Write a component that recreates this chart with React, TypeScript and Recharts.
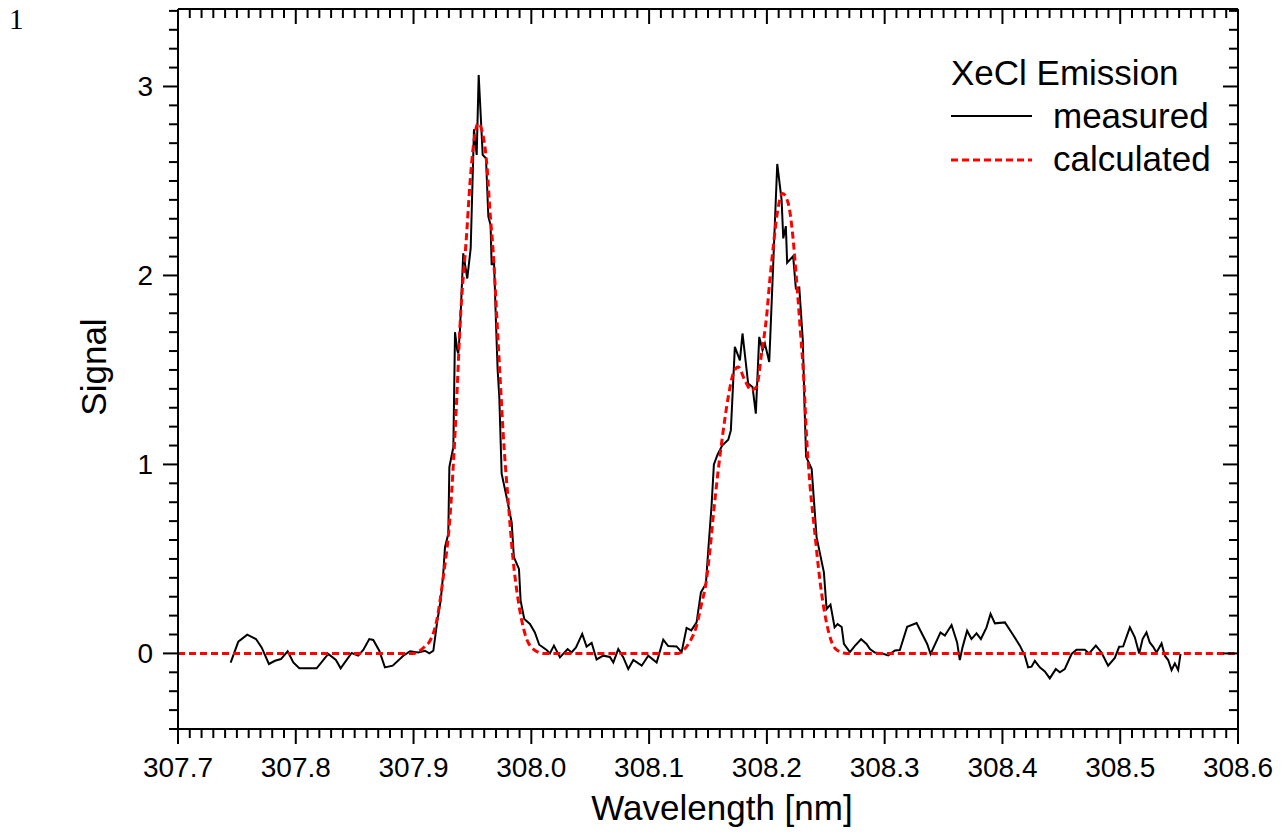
import React from 'react';
import { LineChart, Line, XAxis, YAxis, Legend } from 'recharts';

// ---------- data ----------
const measuredX = [
  307.7447, 307.7512, 307.7588, 307.7662, 307.771, 307.7772, 307.7823, 307.7874, 307.7931, 307.7979,
  307.803, 307.8177, 307.8276, 307.8341, 307.8381, 307.8474, 307.853, 307.8573, 307.8624, 307.8658,
  307.8709, 307.8757, 307.8823, 307.8913, 307.897, 307.904, 307.9097, 307.9134, 307.9168, 307.9202,
  307.923, 307.9252, 307.9267, 307.9295, 307.9304, 307.9338, 307.9352, 307.9371, 307.938, 307.9394,
  307.9422, 307.9456, 307.9485, 307.9513, 307.9536, 307.9553, 307.9575, 307.9587, 307.9615, 307.9635,
  307.9654, 307.9663, 307.9683, 307.97, 307.9714, 307.9728, 307.9748, 307.9796, 307.9833, 307.9852,
  307.9895, 307.9909, 307.994, 307.9988, 308.003, 308.0067, 308.013, 308.0158, 308.0192, 308.0243,
  308.0308, 308.0342, 308.0379, 308.0432, 308.0469, 308.0512, 308.0554, 308.0611, 308.0667, 308.0696,
  308.0738, 308.0781, 308.0823, 308.0866, 308.0937, 308.0993, 308.1064, 308.112, 308.1162, 308.1233,
  308.1276, 308.1318, 308.1358, 308.1403, 308.144, 308.1482, 308.1502, 308.153, 308.155, 308.158,
  308.162, 308.1672, 308.1694, 308.1728, 308.1771, 308.1793, 308.1841, 308.1878, 308.1906, 308.1935,
  308.1963, 308.1983, 308.202, 308.2054, 308.2088, 308.2125, 308.2139, 308.2161, 308.2172, 308.2223,
  308.2246, 308.2275, 308.2305, 308.232, 308.2333, 308.238, 308.2422, 308.2484, 308.2507, 308.254,
  308.2575, 308.26, 308.2635, 308.2654, 308.2705, 308.2747, 308.28, 308.2846, 308.2875, 308.2917,
  308.2974, 308.303, 308.3087, 308.3129, 308.3191, 308.3271, 308.3361, 308.339, 308.3474, 308.3511,
  308.3568, 308.3615, 308.3638, 308.3661, 308.37, 308.3737, 308.378, 308.3817, 308.3865, 308.3899,
  308.3936, 308.4021, 308.4077, 308.4148, 308.419, 308.4218, 308.4247, 308.4275, 308.4317, 308.436,
  308.4402, 308.4453, 308.4487, 308.4529, 308.4587, 308.4629, 308.4699, 308.4736, 308.4793, 308.4841,
  308.4897, 308.4954, 308.4991, 308.5025, 308.5082, 308.5124, 308.5161, 308.519, 308.5223, 308.5251,
  308.528, 308.5308, 308.5351, 308.5379, 308.5407, 308.5436, 308.5464, 308.5492, 308.5512,
];
const measuredY = [
  -0.049, 0.062, 0.099, 0.076, 0.032, -0.056, -0.039, -0.03, 0.011, -0.048,
  -0.079, -0.079, -0.003, -0.035, -0.079, 0.002, -0.012, 0.018, 0.076, 0.071,
  0.014, -0.074, -0.065, -0.012, 0.011, 0.005, 0.014, 0.0, 0.014, 0.173,
  0.279, 0.42, 0.562, 0.633, 0.986, 1.092, 1.7, 1.604, 1.587, 1.71,
  2.117, 1.984, 2.143, 2.774, 2.638, 3.061, 2.788, 2.638, 2.62, 2.311,
  2.267, 2.055, 2.081, 1.746, 1.5, 1.357, 0.951, 0.809, 0.694, 0.509,
  0.447, 0.279, 0.182, 0.156, 0.111, 0.046, 0.018, 0.0, 0.041, -0.021,
  0.023, 0.005, 0.032, 0.103, 0.036, 0.056, -0.032, -0.012, -0.019, -0.048,
  0.023, -0.021, -0.083, -0.035, -0.065, -0.012, -0.048, 0.073, 0.039, 0.037,
  0.007, 0.135, 0.122, 0.164, 0.323, 0.368, 0.544, 0.78, 1.0, 1.05,
  1.1, 1.131, 1.18, 1.622, 1.551, 1.693, 1.428, 1.41, 1.269, 1.675,
  1.604, 1.64, 1.542, 2.064, 2.59, 2.399, 2.196, 2.261, 2.067, 2.102,
  1.931, 1.936, 1.657, 1.3, 1.04, 0.977, 0.615, 0.429, 0.235, 0.258,
  0.138, 0.155, 0.14, 0.05, 0.007, 0.04, 0.075, 0.05, 0.023, 0.005,
  0.0, -0.01, 0.016, 0.018, 0.141, 0.161, 0.05, -0.003, 0.111, 0.094,
  0.15, 0.058, -0.035, 0.032, 0.12, 0.076, 0.106, 0.076, 0.138, 0.209,
  0.159, 0.164, 0.111, 0.041, -0.012, -0.074, -0.07, -0.039, -0.074, -0.095,
  -0.132, -0.083, -0.1, -0.083, -0.003, 0.02, 0.02, 0.0, 0.041, 0.005,
  -0.065, -0.024, 0.035, 0.037, 0.138, 0.085, 0.0, 0.076, 0.111, 0.058,
  0.035, 0.005, 0.053, -0.012, -0.035, -0.088, -0.053, -0.088, -0.003,
];

const calcX = [
  307.7, 307.9, 307.9054, 307.91, 307.914, 307.9196, 307.9252, 307.9309, 307.9366, 307.9394,
  307.9451, 307.9479, 307.9507, 307.9549, 307.9592, 307.9626, 307.9648, 307.9677, 307.9705, 307.9733,
  307.9761, 307.9803, 307.9846, 307.9889, 307.9946, 308.0016, 308.01, 308.125, 308.1276, 308.1346,
  308.14, 308.1445, 308.1482, 308.1516, 308.155, 308.1585, 308.1624, 308.1672, 308.1714, 308.1756,
  308.1813, 308.187, 308.1912, 308.1955, 308.1997, 308.2025, 308.2054, 308.2088, 308.2133, 308.2181,
  308.2218, 308.2252, 308.2286, 308.2314, 308.2337, 308.2365, 308.2408, 308.244, 308.2465, 308.2507,
  308.255, 308.26, 308.268, 308.6,
];
const calcY = [
  0, 0, 0.014, 0.04, 0.067, 0.173, 0.403, 0.72, 1.339, 1.728,
  2.222, 2.487, 2.68, 2.806, 2.735, 2.558, 2.346, 2.117, 1.8, 1.48,
  1.163, 0.809, 0.491, 0.279, 0.103, 0.023, 0, 0, 0.009, 0.062,
  0.14, 0.262, 0.368, 0.544, 0.76, 0.96, 1.154, 1.357, 1.48, 1.516,
  1.445, 1.392, 1.41, 1.587, 1.781, 1.975, 2.152, 2.329, 2.434, 2.382,
  2.222, 1.975, 1.693, 1.445, 1.145, 0.898, 0.633, 0.44, 0.315, 0.16,
  0.06, 0.015, 0, 0,
];

const xMajorTicks = [307.7, 307.8, 307.9, 308.0, 308.1, 308.2, 308.3, 308.4, 308.5, 308.6];
const xTickLabels = ['307.7', '307.8', '307.9', '308.0', '308.1', '308.2', '308.3', '308.4', '308.5', '308.6'];
const yMajorTicks = [0, 1, 2, 3];
const yTickLabels = ['0', '1', '2', '3'];

const xTitle = 'Wavelength [nm]';
const yTitle = 'Signal';
const legendTitle = 'XeCl Emission';
const seriesNames = ['measured', 'calculated'];
const pageNumber = '1';

const measured = measuredX.map((x, i) => ({ x, y: measuredY[i] }));
const calculated = calcX.map((x, i) => ({ x, y: calcY[i] }));

const xAllTicks = Array.from({ length: 91 }, (_, i) => Math.round(30770 + i) / 100);
const yAllTicks = Array.from({ length: 39 }, (_, i) => (i - 4) / 10);

const FONT = '"Liberation Sans", Arial, Helvetica, sans-serif';
const MAJOR = 15;
const MINOR = 9;

const isXMajor = (v: number) => Math.abs(v * 10 - Math.round(v * 10)) < 1e-6;
const isYMajor = (v: number) => Math.abs(v - Math.round(v)) < 1e-6;
const xLabelOf = (v: number) => {
  const i = xMajorTicks.findIndex((t) => Math.abs(t - v) < 1e-6);
  return i >= 0 ? xTickLabels[i] : '';
};
const yLabelOf = (v: number) => {
  const i = yMajorTicks.findIndex((t) => Math.abs(t - v) < 1e-6);
  return i >= 0 ? yTickLabels[i] : '';
};

const BottomTick = (props: any) => {
  const { x, y, payload } = props;
  const major = isXMajor(payload.value);
  return (
    <g>
      <line x1={x} y1={y} x2={x} y2={y + (major ? MAJOR : MINOR)} stroke="#000" strokeWidth={2} />
      {major && (
        <text x={x} y={y + 48} textAnchor="middle" fontFamily={FONT} fontSize={28} fill="#000">
          {xLabelOf(payload.value)}
        </text>
      )}
    </g>
  );
};

const TopTick = (props: any) => {
  const { x, y, payload } = props;
  const major = isXMajor(payload.value);
  return <line x1={x} y1={y} x2={x} y2={y + (major ? MAJOR : MINOR)} stroke="#000" strokeWidth={2} />;
};

const LeftTick = (props: any) => {
  const { x, y, payload } = props;
  const major = isYMajor(payload.value);
  return (
    <g>
      <line x1={x} y1={y} x2={x - (major ? MAJOR : MINOR)} y2={y} stroke="#000" strokeWidth={2} />
      {major && (
        <text x={x - 25} y={y + 10} textAnchor="end" fontFamily={FONT} fontSize={28} fill="#000">
          {yLabelOf(payload.value)}
        </text>
      )}
    </g>
  );
};

const RightTick = (props: any) => {
  const { x, y, payload } = props;
  const major = isYMajor(payload.value);
  return <line x1={x} y1={y} x2={x - (major ? MAJOR : MINOR)} y2={y} stroke="#000" strokeWidth={2} />;
};

const LegendBox = () => (
  <svg width={300} height={150} style={{ display: 'block' }}>
    <text x={11} y={45} fontFamily={FONT} fontSize={35} fill="#000">{legendTitle}</text>
    <line x1={11} y1={76} x2={92} y2={76} stroke="#000" strokeWidth={2} />
    <text x={113} y={88} fontFamily={FONT} fontSize={35} fill="#000">{seriesNames[0]}</text>
    <line x1={11} y1={120} x2={92} y2={120} stroke="#ff0000" strokeWidth={3} strokeDasharray="7 4" />
    <text x={113} y={131} fontFamily={FONT} fontSize={35} fill="#000">{seriesNames[1]}</text>
  </svg>
);

export default function App() {
  return (
    <div style={{ position: 'absolute', left: 0, top: 0, width: 1285, height: 834, background: '#fff' }}>
      <div
        style={{
          position: 'absolute',
          left: 9,
          top: 3,
          fontFamily: '"Liberation Serif", "Times New Roman", serif',
          fontSize: 29,
          lineHeight: '32px',
          color: '#000',
        }}
      >
        {pageNumber}
      </div>
      <LineChart width={1285} height={834} margin={{ top: 8, right: 46, bottom: 0, left: 0 }}>
        <XAxis
          dataKey="x"
          type="number"
          domain={[307.7, 308.6]}
          allowDataOverflow
          ticks={xAllTicks}
          interval={0}
          height={105}
          tickSize={0}
          tickMargin={0}
          tickLine={false}
          axisLine={{ stroke: '#000', strokeWidth: 2 }}
          tick={(p: any) => <BottomTick {...p} />}
          label={() => (
            <text x={722} y={820} textAnchor="middle" fontFamily={FONT} fontSize={35} fill="#000">
              {xTitle}
            </text>
          )}
        />
        <XAxis
          xAxisId="top"
          orientation="top"
          dataKey="x"
          type="number"
          domain={[307.7, 308.6]}
          allowDataOverflow
          ticks={xAllTicks}
          interval={0}
          height={1}
          tickSize={0}
          tickMargin={0}
          tickLine={false}
          axisLine={{ stroke: '#000', strokeWidth: 2 }}
          tick={(p: any) => <TopTick {...p} />}
        />
        <YAxis
          type="number"
          domain={[-0.4, 3.41]}
          allowDataOverflow
          ticks={yAllTicks}
          interval={0}
          width={178}
          tickSize={0}
          tickMargin={0}
          tickLine={false}
          axisLine={{ stroke: '#000', strokeWidth: 2 }}
          tick={(p: any) => <LeftTick {...p} />}
          label={() => (
            <text
              x={106}
              y={367}
              textAnchor="middle"
              fontFamily={FONT}
              fontSize={35}
              fill="#000"
              transform="rotate(-90 106 367)"
            >
              {yTitle}
            </text>
          )}
        />
        <YAxis
          yAxisId="right"
          orientation="right"
          type="number"
          domain={[-0.4, 3.41]}
          allowDataOverflow
          ticks={yAllTicks}
          interval={0}
          width={1}
          tickSize={0}
          tickMargin={0}
          tickLine={false}
          axisLine={{ stroke: '#000', strokeWidth: 2 }}
          tick={(p: any) => <RightTick {...p} />}
        />
        <Legend
          layout="vertical"
          align="center"
          verticalAlign="middle"
          content={() => <LegendBox />}
          wrapperStyle={{ position: 'absolute', left: 940, top: 40, width: 300, height: 150 }}
        />
        <Line
          data={measured}
          dataKey="y"
          type="linear"
          stroke="#000"
          strokeWidth={2}
          dot={false}
          activeDot={false}
          isAnimationActive={false}
          legendType="none"
        />
        <Line
          data={calculated}
          dataKey="y"
          type="monotone"
          stroke="#ff0000"
          strokeWidth={3}
          strokeDasharray="7 4"
          dot={false}
          activeDot={false}
          isAnimationActive={false}
          legendType="none"
        />
      </LineChart>
    </div>
  );
}
